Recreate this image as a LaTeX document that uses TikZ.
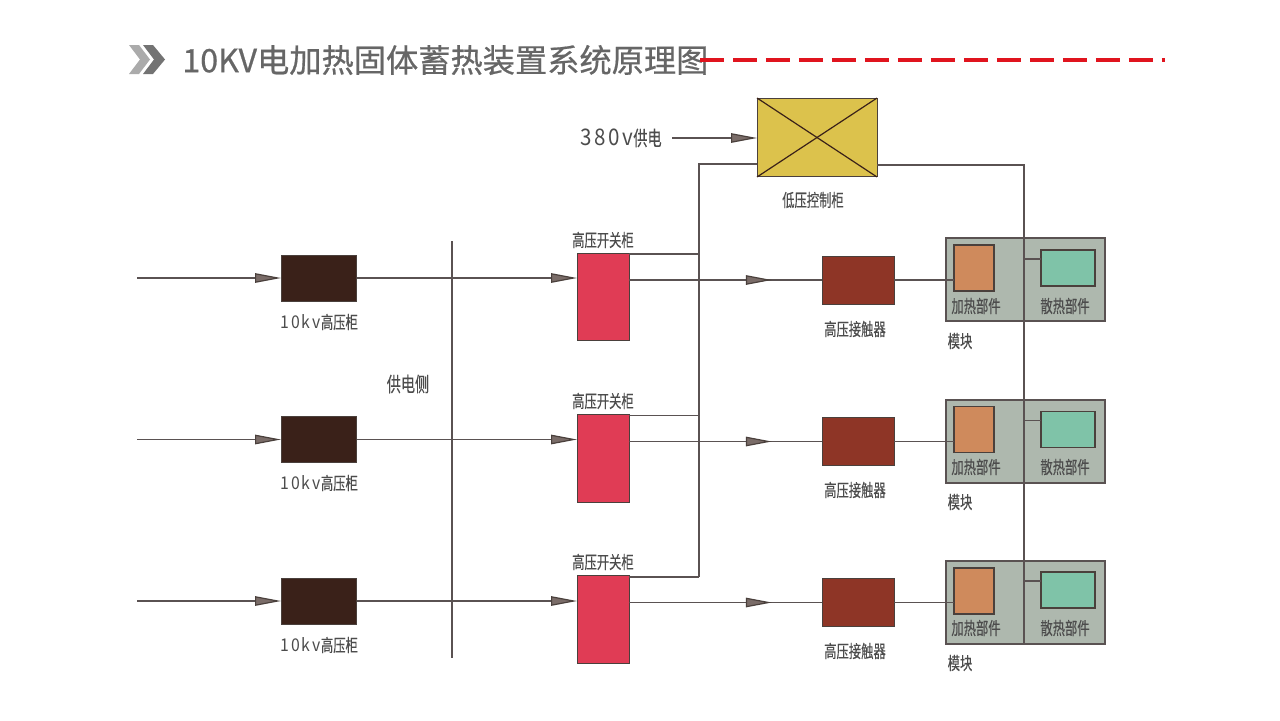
\documentclass[tikz,border=0pt]{standalone}
\usepackage{fontspec}
\usetikzlibrary{arrows.meta,decorations.markings}
\newfontfamily\cjk[FakeBold=0.6]{Noto Sans CJK SC}
\newfontfamily\cjknarrow[FakeStretch=0.7,FakeBold=0.25]{Noto Sans CJK SC}
\newfontfamily\widelatin[LetterSpace=12,FakeStretch=0.9]{Noto Sans CJK SC}
\definecolor{linegray}{HTML}{5A5252}
\definecolor{edgegray}{HTML}{4A403C}
\definecolor{tipgray}{HTML}{7A6C68}
\definecolor{hvbrown}{HTML}{3A2119}
\definecolor{swred}{HTML}{E03C55}
\definecolor{conbrown}{HTML}{8E3526}
\definecolor{modgray}{HTML}{AEB8AE}
\definecolor{heatorange}{HTML}{CF8A5C}
\definecolor{fangreen}{HTML}{7FC3A8}
\definecolor{ctrlyellow}{HTML}{DCC24C}
\definecolor{titlegray}{HTML}{666666}
\definecolor{dashred}{HTML}{E0141E}
\tikzset{
  box/.style={draw=edgegray,line width=.02cm,inner sep=0pt,outer sep=0pt},
  hvbox/.style={box,fill=hvbrown,minimum width=1.52cm,minimum height=.92cm},
  swbox/.style={box,fill=swred,minimum width=1.04cm,minimum height=1.76cm},
  conbox/.style={box,fill=conbrown,minimum width=1.44cm,minimum height=.96cm},
  modbox/.style={box,draw=linegray,line width=.03cm,fill=modgray,minimum width=3.18cm,minimum height=1.66cm},
  heatbox/.style={box,line width=.03cm,fill=heatorange,minimum width=.8cm,minimum height=.92cm},
  fanbox/.style={box,line width=.03cm,fill=fangreen,minimum width=1.08cm,minimum height=.72cm},
  lbl/.style={font=\cjknarrow\fontsize{10}{12}\selectfont,text=black!70,inner sep=0pt},
  biglbl/.style={lbl,font=\cjknarrow\fontsize{11.5}{14}\selectfont},
  wire/.style={color=linegray,line width=.024cm},
  flowtip/.tip={Triangle[length=.52cm,width=.19cm,fill=tipgray,color=edgegray]},
  feed/.style={wire,-flowtip},
  midfeed/.style={wire,postaction={decorate},decoration={markings,mark=at position #1 with {\arrow{flowtip}}}}
}
\begin{document}
\begin{tikzpicture}[x=.02cm,y=-.02cm]
   \useasboundingbox (0,0) rectangle (1280,720);

   % heading
   \fill[black!33] (129,45) -- (139,45) -- (150,59.5) -- (139,74) -- (129,74) -- (140,59.5) -- cycle;
   \fill[black!55] (143,45) -- (153,45) -- (165,59.5) -- (153,74) -- (143,74) -- (154,59.5) -- cycle;
   \node[anchor=west,inner sep=0pt,text=titlegray,font=\cjk\fontsize{18.35}{24}\selectfont] at (182,60) (heading) {10KV电加热固体蓄热装置系统原理图};
   \draw[dashred,line width=.065cm,dash pattern=on .48cm off .18cm] (700,60) -- (1165,60);

   % low voltage cabinet
   \node[box,fill=ctrlyellow,minimum width=2.4cm,minimum height=1.58cm] at (817,137.5) (ctrl) {};
   \node[lbl] at (813,200) (ctrllbl) {低压控制柜};
   \draw[color=hvbrown,line width=.024cm] (ctrl.north west) -- (ctrl.south east);
   \draw[color=hvbrown,line width=.024cm] (ctrl.south west) -- (ctrl.north east);
   \node[biglbl,anchor=east] at (662,138) (supply) {{\widelatin\fontsize{13}{14}\selectfont 380v}供电};
   \coordinate (supplyend) at (672,138);
   \draw[feed] (supplyend) -- (supplyend -| ctrl.west);

   % modules
   \node[modbox] at (1025.5,279.5) (mod1) {};
   \node[modbox] at (1025.5,441.5) (mod2) {};
   \node[modbox] at (1025.5,602.5) (mod3) {};
   \node[heatbox] at (974,268) (heat1) {};
   \node[heatbox] at (974,429.5) (heat2) {};
   \node[heatbox] at (974,591) (heat3) {};
   \node[fanbox] at (1068,268) (fan1) {};
   \node[fanbox] at (1068,429.5) (fan2) {};
   \node[fanbox] at (1068,590) (fan3) {};
   \node[lbl] at (976,306) (heatlbl1) {加热部件};
   \node[lbl] at (976,467) (heatlbl2) {加热部件};
   \node[lbl] at (976,628) (heatlbl3) {加热部件};
   \node[lbl] at (1065,306) (fanlbl1) {散热部件};
   \node[lbl] at (1065,467) (fanlbl2) {散热部件};
   \node[lbl] at (1065,628) (fanlbl3) {散热部件};
   \node[lbl] at (960,341) (modlbl1) {模块};
   \node[lbl] at (960,502) (modlbl2) {模块};
   \node[lbl] at (960,663) (modlbl3) {模块};

   % 10kv cabinets
   \node[hvbox] at (319,278) (hv1) {};
   \node[hvbox] at (319,439.5) (hv2) {};
   \node[hvbox] at (319,601) (hv3) {};
   \node[lbl] at (319,322) (hvlbl1) {{\widelatin 10kv}高压柜};
   \node[lbl] at (319,483) (hvlbl2) {{\widelatin 10kv}高压柜};
   \node[lbl] at (319,645) (hvlbl3) {{\widelatin 10kv}高压柜};

   % switch cabinets
   \node[swbox] at (603,297) (sw1) {};
   \node[swbox] at (603,458.5) (sw2) {};
   \node[swbox] at (603,619) (sw3) {};
   \node[lbl] at (603,240) (swlbl1) {高压开关柜};
   \node[lbl] at (603,401) (swlbl2) {高压开关柜};
   \node[lbl] at (603,562) (swlbl3) {高压开关柜};

   % contactors
   \node[conbox] at (858,280) (con1) {};
   \node[conbox] at (858,441.5) (con2) {};
   \node[conbox] at (858,602.5) (con3) {};
   \node[lbl] at (855,329) (conlbl1) {高压接触器};
   \node[lbl] at (855,490) (conlbl2) {高压接触器};
   \node[lbl] at (855,651) (conlbl3) {高压接触器};

   % supply side
   \coordinate (sidetop) at (452,241);
   \coordinate (sidebot) at (452,658);
   \draw[wire] (sidetop) -- (sidebot);
   \node[biglbl] at (408,384) (sidelbl) {供电侧};

   % incoming lines
   \coordinate (in1) at (137,278);
   \coordinate (in2) at (137,439.5);
   \coordinate (in3) at (137,601);
   \draw[feed] (in1) -- (hv1.west);
   \draw[feed] (in2) -- (hv2.west);
   \draw[feed] (in3) -- (hv3.west);
   \draw[feed] (hv1.east) -- (hv1 -| sw1.west);
   \draw[feed] (hv2.east) -- (hv2 -| sw2.west);
   \draw[feed] (hv3.east) -- (hv3 -| sw3.west);

   % outgoing lines
   \draw[midfeed=.74] (con1 -| sw1.east) -- (con1.west);
   \draw[midfeed=.74] (con2 -| sw2.east) -- (con2.west);
   \draw[midfeed=.74] (con3 -| sw3.east) -- (con3.west);
   \draw[wire] (con1.east) -- (con1 -| heat1.west);
   \draw[wire] (con2.east) -- (con2 -| heat2.west);
   \draw[wire] (con3.east) -- (con3 -| heat3.west);

   % control bus
   \coordinate (busleft) at (699,164);
   \coordinate (busright) at (1024,165);
   \coordinate (tap1) at (699,254);
   \coordinate (tap2) at (699,415.5);
   \coordinate (tap3) at (699,577);
   \coordinate (busend) at (1024,644);
   \draw[wire] (tap3) -- (busleft) -- (busleft -| ctrl.west);
   \draw[wire] (tap1 -| sw1.east) -- (tap1);
   \draw[wire] (tap2 -| sw2.east) -- (tap2);
   \draw[wire] (tap3 -| sw3.east) -- (tap3);
   \draw[wire] (busright -| ctrl.east) -- (busright) -- (busend);
   \coordinate (fantap1) at (1024,259);
   \coordinate (fantap2) at (1024,420.5);
   \coordinate (fantap3) at (1024,581);
   \draw[wire] (fantap1) -- (fantap1 -| fan1.west);
   \draw[wire] (fantap2) -- (fantap2 -| fan2.west);
   \draw[wire] (fantap3) -- (fantap3 -| fan3.west);
\end{tikzpicture}
\end{document}
